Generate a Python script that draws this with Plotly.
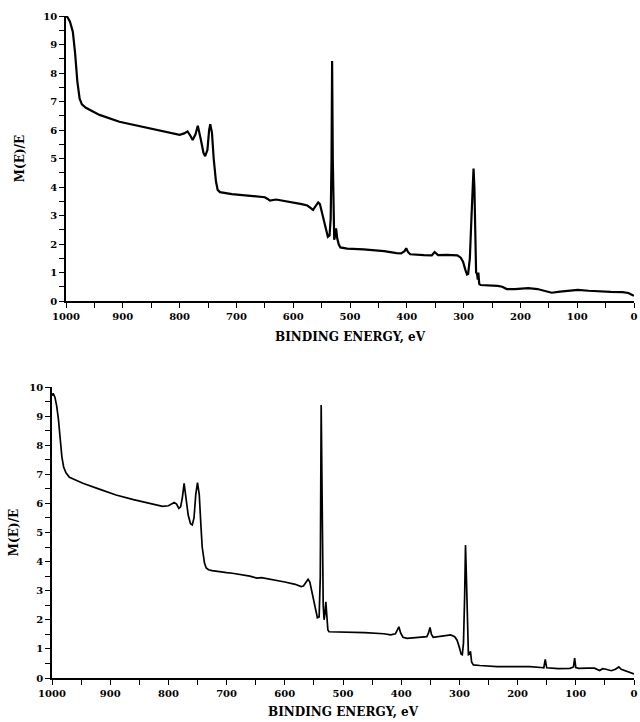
import plotly.graph_objects as go

# ---- Top spectrum (binding energy in eV, M(E)/E) ----
top_energy = [1000, 997, 993, 988, 984, 980, 976, 972, 965, 941, 906, 854, 810, 800, 792, 786,
              781, 777, 772, 768, 763, 758, 755, 751, 748, 746, 743, 740, 736, 733, 729, 720,
              708, 680, 650, 645, 641, 630, 610, 585, 575, 568, 565, 560, 556, 553, 548, 543,
              539, 536, 534, 532.5, 531.5, 530.3, 529, 527.8, 526, 524.5, 522.5, 520, 517, 505,
              476, 440, 418, 410, 404, 401, 398, 394, 370, 356, 351, 348, 345, 330, 311, 305,
              301, 297, 294, 292, 289, 286, 283.5, 282.5, 281, 279.5, 278, 276.5, 275, 274,
              272.5, 270, 255, 240, 232, 224, 210, 195, 186, 170, 155, 145, 130, 110, 99, 80,
              60, 41, 20, 10, 2, 0]
top_signal = [10.0, 9.95, 9.8, 9.45, 8.7, 7.7, 7.1, 6.9, 6.78, 6.53, 6.29, 6.06, 5.88, 5.83, 5.88, 5.95,
              5.8, 5.65, 5.85, 6.15, 5.7, 5.2, 5.08, 5.3, 6.0, 6.2, 5.9, 5.0, 4.2, 3.9, 3.82, 3.78,
              3.75, 3.7, 3.64, 3.58, 3.52, 3.56, 3.5, 3.4, 3.35, 3.22, 3.2, 3.35, 3.46, 3.4, 3.0, 2.5,
              2.25, 2.3, 2.9, 5.0, 8.42, 5.0, 2.3, 2.15, 2.3, 2.55, 2.2, 2.0, 1.88, 1.84,
              1.81, 1.75, 1.68, 1.67, 1.75, 1.85, 1.72, 1.64, 1.61, 1.6, 1.72, 1.66, 1.61, 1.62, 1.6, 1.52,
              1.38, 1.1, 0.93, 0.95, 1.5, 3.0, 4.4, 4.65, 4.0, 2.0, 1.0, 0.97, 0.75, 1.0,
              0.6, 0.56, 0.55, 0.53, 0.5, 0.42, 0.42, 0.44, 0.45, 0.42, 0.33, 0.29, 0.33, 0.38, 0.39, 0.36,
              0.33, 0.32, 0.31, 0.28, 0.2, 0.18]

# ---- Bottom spectrum ----
bot_energy = [1000, 998, 995, 992, 989, 986, 983, 980, 976, 970, 960, 947, 920, 890, 860, 833, 810,
              800, 795, 790, 786, 782, 779, 776, 773, 770, 766, 762, 759, 756, 753, 750, 747, 744,
              742, 738, 735, 731, 725, 700, 690, 660, 648, 640, 620, 600, 582, 572, 568, 563, 560,
              557, 553, 548, 544, 541, 539, 537.5, 536, 534, 532.5, 531, 529.5, 528, 526, 524, 500,
              463, 430, 418, 410, 406, 404, 401, 397, 390, 370, 356, 353, 350.5, 348, 345, 330, 315,
              308, 304, 300, 297, 295, 293, 291, 289.5, 288, 286, 284.5, 282.5, 281, 279, 276, 265,
              235, 200, 179, 160, 155, 152.5, 150, 130, 110, 104, 102, 100, 95, 80, 68, 59, 54, 48,
              39, 32, 26, 22, 12, 5, 0]
bot_signal = [9.7, 9.78, 9.65, 9.35, 8.9, 8.2, 7.6, 7.25, 7.05, 6.9, 6.8, 6.69, 6.5, 6.29, 6.13, 6.0, 5.9,
              5.92, 5.98, 6.03, 5.98, 5.83, 5.88, 6.2, 6.69, 6.2, 5.6, 5.3, 5.26, 5.5, 6.3, 6.71, 6.3, 5.2,
              4.51, 3.95, 3.78, 3.72, 3.69, 3.62, 3.6, 3.5, 3.43, 3.45, 3.38, 3.3, 3.22, 3.14, 3.16, 3.33, 3.39,
              3.3, 2.9, 2.35, 2.07, 2.1, 3.5, 9.38, 5.0, 2.5, 2.0, 2.2, 2.62, 2.1, 1.65, 1.59, 1.58,
              1.56, 1.52, 1.48, 1.52, 1.65, 1.76, 1.55, 1.4, 1.36, 1.39, 1.42, 1.55, 1.74, 1.5, 1.4, 1.44, 1.48,
              1.42, 1.3, 1.05, 0.82, 0.8, 1.2, 2.8, 4.57, 3.5, 1.5, 0.8, 0.82, 0.92, 0.55, 0.45, 0.43,
              0.39, 0.39, 0.39, 0.36, 0.35, 0.64, 0.35, 0.32, 0.33, 0.38, 0.68, 0.36, 0.33, 0.34, 0.34, 0.26, 0.32, 0.3,
              0.25, 0.3, 0.38, 0.3, 0.22, 0.17, 0.14]

x_title = "BINDING ENERGY, eV"
y_title = "M(E)/E"

W, H = 640, 722
FONT = "DejaVu Serif"
RIGHT = 634 / W

fig = go.Figure()
fig.add_trace(go.Scatter(x=top_energy, y=top_signal, mode="lines",
                         line=dict(color="black", width=2.2), xaxis="x", yaxis="y",
                         showlegend=False, hoverinfo="skip"))
fig.add_trace(go.Scatter(x=bot_energy, y=bot_signal, mode="lines",
                         line=dict(color="black", width=1.7), xaxis="x2", yaxis="y2",
                         showlegend=False, hoverinfo="skip"))


def xax(domain, anchor, standoff):
    return dict(domain=domain, anchor=anchor, range=[1000, 0], autorange=False,
                showline=True, linecolor="black", linewidth=1.5, showgrid=False, zeroline=False,
                ticks="outside", ticklen=5, tickwidth=1, tickcolor="black", dtick=100, tick0=0,
                minor=dict(dtick=50, ticks="outside", ticklen=5, tickwidth=1, tickcolor="black", showgrid=False),
                tickfont=dict(family=FONT, size=10, color="black", weight="bold"),
                title=dict(text=x_title, standoff=standoff,
                           font=dict(family=FONT, size=12, color="black", weight="bold")),
                automargin=False, fixedrange=True)


def yax(domain, anchor, standoff):
    return dict(domain=domain, anchor=anchor, range=[0, 10], autorange=False,
                showline=True, linecolor="black", linewidth=1.5, showgrid=False, zeroline=False,
                ticks="outside", ticklen=5, tickwidth=1, tickcolor="black", dtick=1, tick0=0,
                minor=dict(dtick=0.5, ticks="outside", ticklen=5, tickwidth=1, tickcolor="black", showgrid=False),
                tickfont=dict(family=FONT, size=10, color="black", weight="bold"),
                title=dict(text=y_title, standoff=standoff,
                           font=dict(family=FONT, size=12, color="black", weight="bold")),
                automargin=False, fixedrange=True)


fig.update_layout(
    template="none",
    width=W, height=H,
    margin=dict(l=0, r=0, t=0, b=0),
    paper_bgcolor="white", plot_bgcolor="white",
    showlegend=False,
    xaxis=xax([66 / W, RIGHT], "y", 12),
    yaxis=yax([1 - 301 / H, 1 - 16 / H], "x", 16),
    xaxis2=xax([52 / W, RIGHT], "y2", 10),
    yaxis2=yax([1 - 678 / H, 1 - 387 / H], "x2", 8),
)

fig.write_html("out.html")
